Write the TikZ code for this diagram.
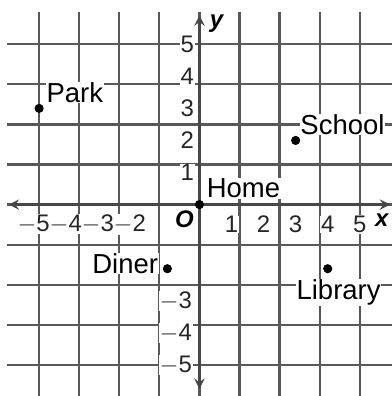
\documentclass[tikz,border=0pt]{standalone}
\usepackage{fontspec}
\setmainfont{Liberation Sans}
\usetikzlibrary{arrows}

\begin{document}
\begin{tikzpicture}
      [x = 0.8cm, y = 0.8cm,
      gridline/.style={draw = black!65, line width = 1.6pt},
      axis/.style={draw = black!72, line width = 2.2pt, stealth-stealth},
      tick/.style= {
         fill = white,
         inner sep = 0.5pt,
         text = black!85,
         font = \fontsize{17}{17}\selectfont
      },
      axlabel/.style= {
         font = \fontsize{17}{17}\selectfont\bfseries\itshape
      },
      place/.style= {
         fill = white,
         inner sep = 0.5pt,
         font = \fontsize{19.5}{20}\selectfont
      },
      dot/.style= {
         fill = black,
         circle,
         inner sep = 0pt,
         minimum size = 6.5pt
      }]

      \useasboundingbox (-6.22, -5.97) rectangle (6.0, 6.38);
      \clip (-6.22, -5.97) rectangle (6.0, 6.38);

      % grid and axes
      \draw[gridline] (-6, -7) grid (7, 6);
      \draw[axis] (-5.95, 0) -- (5.95, 0);
      \draw[axis] (0, -5.75) -- (0, 5.9);

      \node[axlabel] (xlbl) at (5.69, -0.5) {x};
      \node[axlabel] (ylbl) at (0.53, 5.63) {y};
      \node[axlabel] (olbl) at (-0.47, -0.47) {O};

      % tick labels
      \foreach \i in {1, ..., 5} {
         \node[tick] (xp\i) at (\i, -0.62) {\i};
         \node[tick] (yp\i) at (-0.38, \i) {\i};
      }
      \foreach \i in {2, ..., 5} {
         \node[tick] (xn\i) at (-\i - 0.17, -0.62) {$-$\i};
      }
      \foreach \i in {3, ..., 5} {
         \node[tick] (yn\i) at (-0.74, -\i) {$-$\i};
      }

      % places
      \node[dot] (home) at (0, 0) {};
      \node[dot] (park) at (-5, 3) {};
      \node[dot] (school) at (3, 2) {};
      \node[dot] (diner) at (-1, -2) {};
      \node[dot] (library) at (4, -2) {};

      \node[place, anchor = south west] (homelbl) at (0.2, 0.17) {Home};
      \node[place, anchor = south west] (parklbl) at (-4.8, 3.15) {Park};
      \node[place, anchor = south west] (schoollbl) at (3.12, 2.15) {School};
      \node[place, anchor = east] (dinerlbl) at (-1.26, -1.84) {Diner};
      \node[place, anchor = north] (librarylbl) at (4.34, -2.3) {Library};

   \end{tikzpicture}
\end{document}
